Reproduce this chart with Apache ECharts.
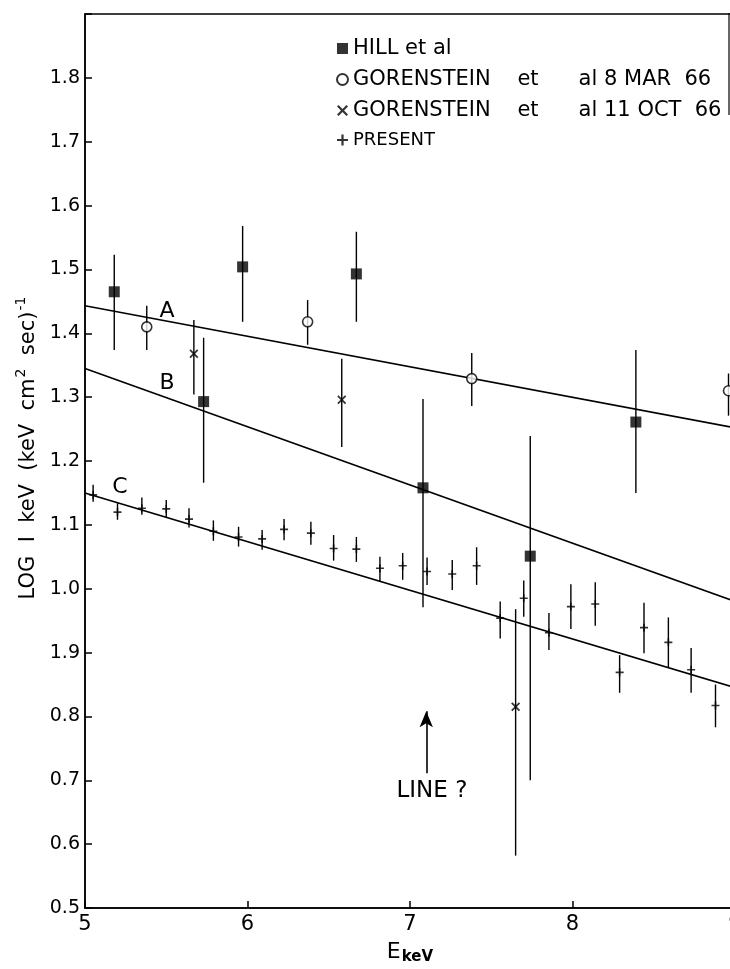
<!DOCTYPE html>
<html><head><meta charset="utf-8">
<script src="https://cdn.jsdelivr.net/npm/echarts@6/dist/echarts.min.js"></script>
<style>html,body{margin:0;padding:0;background:#fff;overflow:hidden}#c{width:730px;height:969px}</style>
</head><body><div id="c"></div>
<script>
// ---- data ----
const hillX  = [5.18, 5.73, 5.97, 6.67, 7.08, 7.74, 8.39];
const hillY  = [1.465, 1.293, 1.504, 1.493, 1.158, 1.051, 1.261];
const hillLo = [1.374, 1.166, 1.418, 1.418, 0.971, 0.700, 1.150];
const hillHi = [1.523, 1.393, 1.568, 1.559, 1.297, 1.239, 1.374];

const marX  = [5.38, 6.37, 7.38, 8.96];
const marY  = [1.410, 1.418, 1.329, 1.310];
const marLo = [1.374, 1.382, 1.286, 1.271];
const marHi = [1.443, 1.452, 1.369, 1.337];

const octX  = [5.67, 6.58, 7.65];
const octY  = [1.368, 1.296, 0.815];
const octLo = [1.304, 1.222, 0.582];
const octHi = [1.421, 1.360, 0.968];

const presX  = [5.05, 5.20, 5.35, 5.50, 5.64, 5.79, 5.945, 6.09, 6.225, 6.39, 6.53, 6.67, 6.815, 6.955,
                7.105, 7.26, 7.41, 7.555, 7.70, 7.855, 7.99, 8.14, 8.29, 8.44, 8.59, 8.73, 8.88];
const presY  = [1.147, 1.120, 1.126, 1.125, 1.109, 1.090, 1.081, 1.078, 1.093, 1.087, 1.063, 1.062, 1.032, 1.036,
                1.027, 1.023, 1.036, 0.954, 0.985, 0.931, 0.972, 0.976, 0.869, 0.939, 0.916, 0.873, 0.817];
const presLo = [1.136, 1.108, 1.116, 1.111, 1.096, 1.075, 1.066, 1.061, 1.076, 1.069, 1.044, 1.042, 1.011, 1.014,
                1.006, 0.998, 1.006, 0.922, 0.956, 0.904, 0.937, 0.942, 0.837, 0.899, 0.876, 0.837, 0.783];
const presHi = [1.163, 1.134, 1.143, 1.139, 1.126, 1.107, 1.097, 1.092, 1.109, 1.105, 1.084, 1.081, 1.050, 1.056,
                1.049, 1.045, 1.065, 0.980, 1.013, 0.962, 1.007, 1.010, 0.896, 0.978, 0.955, 0.907, 0.850];

// fitted lines A, B, C (end points at E = 5 and 9)
const lineA = [[5, 1.443], [9, 1.252]];
const lineB = [[5, 1.345], [9, 0.980]];
const lineC = [[5, 1.150], [9, 0.845]];

const seriesNames = ['HILL et al', 'GORENSTEIN    et      al 8 MAR  66', 'GORENSTEIN    et      al 11 OCT  66', 'PRESENT'];
const xTickLabels = ['5', '6', '7', '8', '9'];
const yTickLabels = ['0.5', '0.6', '0.7', '0.8', '1.9', '1.0', '1.1', '1.2', '1.3', '1.4', '1.5', '1.6', '1.7', '1.8', ''];

// text annotations [E, logI, text, fontSize]
const annotations = [[5.505, 1.434, 'A', 22], [5.505, 1.322, 'B', 22], [5.215, 1.159, 'C', 22], [7.135, 0.683, 'LINE ?', 23]];
const arrowLine = [[7.1, 0.711], [7.1, 0.808]];

// ---- chart ----
const FONT = "'DejaVu Sans', 'Liberation Sans', Arial, sans-serif";
const INK = '#000';
const zip = (xs, ys) => xs.map((x, i) => [x, ys[i]]);
const zip3 = (xs, lo, hi) => xs.map((x, i) => [x, lo[i], hi[i]]);

function errBars(name, xs, lo, hi) {
  return {
    name: name, type: 'custom', silent: true, z: 3,
    data: zip3(xs, lo, hi),
    encode: { x: 0, y: [1, 2] },
    renderItem: function (params, api) {
      const a = api.coord([api.value(0), api.value(1)]);
      const b = api.coord([api.value(0), api.value(2)]);
      return { type: 'line', shape: { x1: a[0], y1: a[1], x2: b[0], y2: b[1] },
               style: { stroke: INK, lineWidth: 1.4 } };
    }
  };
}
function fitLine(name, pts) {
  return { name: name, type: 'line', data: pts, symbol: 'none', silent: true, z: 2,
           lineStyle: { color: INK, width: 1.6 } };
}
const crossPath = 'path://M0,1.4L1.4,0L5,3.6L8.6,0L10,1.4L6.4,5L10,8.6L8.6,10L5,6.4L1.4,10L0,8.6L3.6,5Z';
const plusPath = 'path://M4,0H6V4H10V6H6V10H4V6H0V4H4Z';

const chart = echarts.init(document.getElementById('c'), null, { renderer: 'canvas' });
chart.setOption({
  backgroundColor: '#fff',
  animation: false,
  textStyle: { fontFamily: FONT, color: INK },
  grid: { left: 85, width: 650, top: 14, bottom: 61, outerBoundsMode: 'none', containLabel: false,
          show: true, borderColor: INK, borderWidth: 1.5, backgroundColor: 'transparent' },
  legend: {
    orient: 'vertical', left: 336, top: 38, itemWidth: 11, itemHeight: 11, itemGap: 10,
    selectedMode: false, padding: 0,
    textStyle: { fontSize: 21, color: INK, fontFamily: FONT },
    data: [
      { name: seriesNames[0] }, { name: seriesNames[1] }, { name: seriesNames[2] },
      { name: seriesNames[3], textStyle: { fontSize: 18 } }
    ]
  },
  xAxis: {
    type: 'value', min: 5, max: 9, interval: 1,
    axisLine: { lineStyle: { color: INK, width: 1.5 } },
    axisTick: { inside: true, length: 7, lineStyle: { color: INK, width: 1.5 } },
    splitLine: { show: false },
    axisLabel: { fontSize: 21, color: INK, margin: 6, fontFamily: FONT,
                 formatter: v => xTickLabels[Math.round(v - 5)] },
    name: '{e|E}{k|keV}', nameLocation: 'middle', nameGap: 32,
    nameTextStyle: { rich: {
      e: { fontSize: 22, fontFamily: FONT, color: INK, lineHeight: 24, verticalAlign: 'top' },
      k: { fontSize: 15, fontFamily: FONT, color: INK, fontWeight: 'bold', lineHeight: 24, verticalAlign: 'bottom', padding: [10, 0, 0, 1] }
    } }
  },
  yAxis: {
    type: 'value', min: 0.5, max: 1.9, interval: 0.1,
    axisLine: { show: true, lineStyle: { color: INK, width: 1.5 } },
    axisTick: { show: true, inside: true, length: 7, lineStyle: { color: INK, width: 1.5 } },
    splitLine: { show: false },
    axisLabel: { fontSize: 19, color: INK, margin: 5, fontFamily: FONT,
                 formatter: v => yTickLabels[Math.round((v - 0.5) * 10)] },
    name: '{t|LOG  I  keV  (keV  cm}{s|2}{t|  sec)}{s|-1}', nameLocation: 'middle', nameRotate: 90, nameGap: 40,
    nameTextStyle: { padding: [0, 0, 0, 26], rich: {
      t: { fontSize: 21, fontFamily: FONT, color: INK, lineHeight: 28 },
      s: { fontSize: 14, fontFamily: FONT, color: INK, lineHeight: 28, verticalAlign: 'top', padding: [0, 0, 10, 1] }
    } }
  },
  graphic: [
    { type: 'line', shape: { x1: 729, y1: 13, x2: 729, y2: 115 }, style: { stroke: INK, lineWidth: 1.2 }, silent: true }
  ],
  series: [
    fitLine('A', lineA), fitLine('B', lineB), fitLine('C', lineC),
    errBars('hillErr', hillX, hillLo, hillHi),
    errBars('marErr', marX, marLo, marHi),
    errBars('octErr', octX, octLo, octHi),
    errBars('presErr', presX, presLo, presHi),
    { name: seriesNames[0], type: 'scatter', z: 5, symbol: 'rect', symbolSize: 11,
      itemStyle: { color: INK }, data: zip(hillX, hillY) },
    { name: seriesNames[1], type: 'scatter', z: 5, symbol: 'circle', symbolSize: 10,
      itemStyle: { color: '#fff', borderColor: INK, borderWidth: 1.6 }, data: zip(marX, marY) },
    { name: seriesNames[2], type: 'scatter', z: 5, symbol: crossPath, symbolSize: 9,
      itemStyle: { color: INK }, data: zip(octX, octY) },
    { name: seriesNames[3], type: 'scatter', z: 5, symbol: plusPath, symbolSize: 8,
      itemStyle: { color: INK }, data: zip(presX, presY) },
    { name: 'notes', type: 'custom', z: 6, silent: true,
      data: annotations,
      encode: { x: 0, y: 1 },
      renderItem: function (params, api) {
        const p = api.coord([api.value(0), api.value(1)]);
        const d = annotations[params.dataIndex];
        return { type: 'text', x: p[0], y: p[1],
                 style: { text: d[2], fill: INK, fontSize: d[3], fontFamily: FONT, align: 'center', verticalAlign: 'middle' } };
      },
      markLine: { silent: true, symbol: ['none', 'arrow'], symbolSize: [10, 16],
                  lineStyle: { color: INK, width: 1.6, type: 'solid' }, label: { show: false },
                  data: [[{ coord: arrowLine[0] }, { coord: arrowLine[1] }]] } }
  ]
});
</script>
</body></html>
